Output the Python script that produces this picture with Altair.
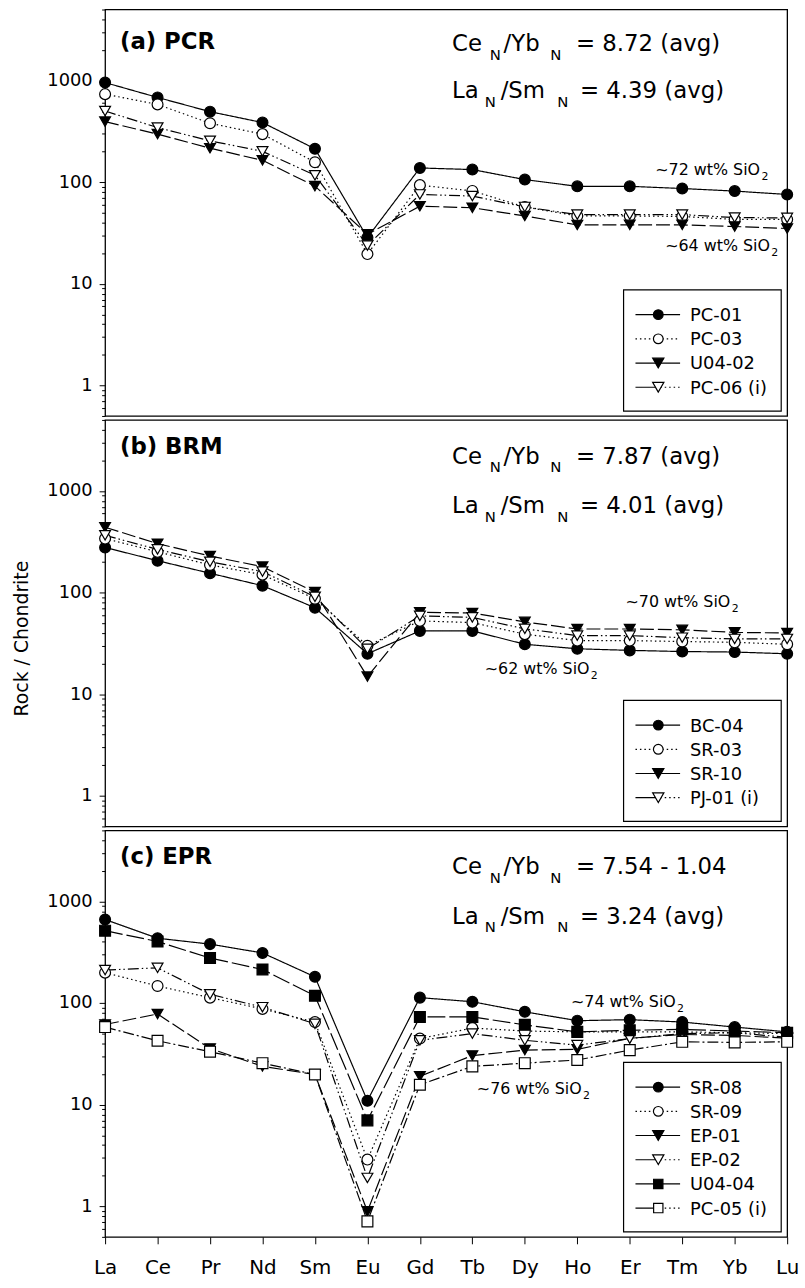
import altair as alt
import pandas as pd

FONT = "DejaVu Sans"

elements = ["La", "Ce", "Pr", "Nd", "Sm", "Eu", "Gd", "Tb", "Dy", "Ho", "Er", "Tm", "Yb", "Lu"]

# ---- Panel (a) PCR ----
pc01 = [955, 682, 494, 386, 213, 28.5, 138, 133, 106, 91, 91, 86.6, 81.7, 75.7]
pc03 = [735, 582, 380, 297, 157, 19.6, 93.5, 82, 57, 46.5, 46.5, 46, 43, 43]
u0402 = [394, 297, 216, 164, 91.4, 30.7, 58, 56, 46.5, 37.9, 38, 38, 36.6, 35]
pc06 = [501, 345, 255, 201, 117, 23.8, 75.7, 73, 57, 48, 48, 48, 44.8, 44.5]

# ---- Panel (b) BRM ----
bc04 = [278, 206, 155, 117, 71, 25, 42, 42, 31, 28, 27, 26.3, 26, 25]
sr03 = [340, 252, 187, 150, 87, 30, 52.6, 50.7, 39, 33.7, 33.7, 33, 32.4, 31]
sr10 = [440, 303, 229, 180, 101, 14.9, 64, 63, 51.5, 43.8, 43.8, 43, 40.6, 40]
pj01 = [366, 266, 201, 161, 91, 28, 59, 57, 44, 37.7, 37.7, 36, 35, 35]

# ---- Panel (c) EPR ----
sr08 = [664, 434, 380, 311, 181, 10.9, 113, 103, 82, 67, 68.6, 65, 58, 52]
sr09 = [199, 147, 113, 87.5, 65, 2.88, 44.7, 56.7, 53, 52, 52, 52, 51, 50]
ep01 = [61.5, 78, 35.7, 23.8, 19.8, 0.89, 19, 30.4, 34.4, 35, 45, 49, 48, 45]
ep02 = [211, 222, 122, 91, 62.5, 1.9, 43, 50, 43, 38.5, 44.7, 50, 51, 46]
u0404 = [515, 403, 277, 214, 118, 7.0, 73, 73, 61, 52, 54, 55, 53, 51]
pc05 = [58, 42.5, 33.2, 25.6, 19.8, 0.71, 15.7, 23.8, 25.6, 27.5, 34.4, 41.5, 41, 41.5]

panel_titles = ["(a) PCR", "(b) BRM", "(c) EPR"]
ce_yb = ["= 8.72 (avg)", "= 7.87 (avg)", "= 7.54 - 1.04"]
la_sm = ["= 4.39 (avg)", "= 4.01 (avg)", "= 3.24 (avg)"]
silica_hi = ["~72 wt% SiO", "~70 wt% SiO", "~74 wt% SiO"]
silica_lo = ["~64 wt% SiO", "~62 wt% SiO", "~76 wt% SiO"]

panels = [
    [("PC-01", pc01, "circle", "black", "solid", "solid"),
     ("PC-03", pc03, "circle", "white", "dot", "dot"),
     ("U04-02", u0402, "triangle-down", "black", "longdash", "solid"),
     ("PC-06 (i)", pc06, "triangle-down", "white", "dashdotdot", "half")],
    [("BC-04", bc04, "circle", "black", "solid", "solid"),
     ("SR-03", sr03, "circle", "white", "dot", "dot"),
     ("SR-10", sr10, "triangle-down", "black", "longdash", "solid"),
     ("PJ-01 (i)", pj01, "triangle-down", "white", "dashdotdot", "half")],
    [("SR-08", sr08, "circle", "black", "solid", "solid"),
     ("SR-09", sr09, "circle", "white", "dot", "dot"),
     ("EP-01", ep01, "triangle-down", "black", "longdash", "solid"),
     ("EP-02", ep02, "triangle-down", "white", "dashdotdot", "half"),
     ("U04-04", u0404, "square", "black", "longdash2", "solid"),
     ("PC-05 (i)", pc05, "square", "white", "dashdot", "half")],
]

# ---- styles / layout (not data) ----
DASH = {"solid": [1, 0], "dot": [1.5, 3], "longdash": [14, 4], "longdash2": [18, 4],
        "dashdotdot": [11, 3, 1.5, 3, 1.5, 3], "dashdot": [11, 3, 2, 3]}
SIZE = {"circle": 120, "triangle-down": 160, "square": 110}
W, H = 688, 410
title_y = [40, 34, 34]
ratio_y1 = [42, 44, 44]
ratio_y2 = [89, 94, 94]
RX = 350
sil_hi_pos = [(555, 167), (525, 189), (470, 178)]
sil_lo_pos = [(565, 244), (383, 256), (375, 266)]
leg_bottom = 381
leg_step = 24.4

one = alt.Data(values=[{"k": 1}])


def txt(s, x, y, size, bold=False, align="left"):
    return alt.Chart(one).mark_text(
        text=s, align=align, baseline="alphabetic", fontSize=size, font=FONT,
        fontWeight="bold" if bold else "normal", color="black"
    ).encode(x=alt.value(x), y=alt.value(y))


def rule(x1, x2, y, dash):
    return alt.Chart(one).mark_rule(color="black", strokeWidth=1.2, strokeDash=dash).encode(
        x=alt.value(x1), x2=alt.value(x2), y=alt.value(y))


def sym(x, y, shape, fill, size):
    return alt.Chart(one).mark_point(
        shape=shape, filled=True, fill=fill, stroke="black", strokeWidth=1.2,
        size=size, opacity=1).encode(x=alt.value(x), y=alt.value(y))


major = [1, 10, 100, 1000]
tick_vals = [0.5, 0.6, 0.7, 0.8, 0.9] + [m * k for m in major for k in range(1, 10)]
tick_vals = sorted(set([v for v in tick_vals if v <= 5000]))
is_major = "(datum.value==1||datum.value==10||datum.value==100||datum.value==1000)"


def make_panel(i):
    series = panels[i]
    rows = []
    for name, vals, shape, fill, dash, ldash in series:
        for j, (el, v) in enumerate(zip(elements, vals)):
            rows.append({"series": name, "el": el, "idx": j, "v": v})
    df = pd.DataFrame(rows)
    names = [s[0] for s in series]
    bottom = i == 2
    xaxis = alt.Axis(title=None, labelFont=FONT, labelFontSize=20, tickSize=7,
                     labelPadding=14, domain=False, tickColor="black", labelColor="black",
                     labelAngle=0) if bottom else None
    x = alt.X("el:N", sort=elements,
              scale=alt.Scale(type="point", domain=elements, padding=0), axis=xaxis)
    yaxis = alt.Axis(
        title="Rock / Chondrite" if i == 1 else None,
        values=tick_vals, labelExpr=is_major + " ? datum.label : ''", format="d",
        tickSize={"condition": {"test": is_major, "value": 6}, "value": 3.5},
        labelFont=FONT, labelFontSize=18, labelPadding=7, labelColor="black",
        tickColor="black", domain=False, grid=False,
        titleFont=FONT, titleFontSize=19, titleFontWeight="normal", titleColor="black",
        titlePadding=15, titleY=220)
    y = alt.Y("v:Q", scale=alt.Scale(type="log", domain=[0.5, 5000], nice=False), axis=yaxis)
    lines = alt.Chart(df).mark_line(color="black", strokeWidth=1.2).encode(
        x=x, y=y,
        strokeDash=alt.StrokeDash("series:N", scale=alt.Scale(
            domain=names, range=[DASH[s[4]] for s in series]), legend=None),
        order="idx:Q")
    pts = alt.Chart(df).mark_point(filled=True, opacity=1, stroke="black", strokeWidth=1.2).encode(
        x=x, y=y,
        shape=alt.Shape("series:N", scale=alt.Scale(domain=names, range=[s[2] for s in series]), legend=None),
        fill=alt.Fill("series:N", scale=alt.Scale(domain=names, range=[s[3] for s in series]), legend=None),
        size=alt.Size("series:N", scale=alt.Scale(domain=names, range=[SIZE[s[2]] for s in series]), legend=None))
    layers = [lines, pts]
    # panel label & ratios
    layers.append(txt(panel_titles[i], 15, title_y[i], 23, bold=True))
    for yy, (a, b, c) in [(ratio_y1[i], ("Ce", "/Yb", ce_yb[i])), (ratio_y2[i], ("La", "/Sm", la_sm[i]))]:
        offs = [0, 38, 52, 99, 125] if a == "Ce" else [0, 33, 49, 106, 129]
        layers.append(txt(a, RX + offs[0], yy, 23))
        layers.append(txt("N", RX + offs[1], yy + 9, 15))
        layers.append(txt(b, RX + offs[2], yy, 23))
        layers.append(txt("N", RX + offs[3], yy + 9, 15))
        layers.append(txt(c, RX + offs[4], yy, 23))
    for s, (sx, sy) in [(silica_hi[i], sil_hi_pos[i]), (silica_lo[i], sil_lo_pos[i])]:
        layers.append(txt(s, sx, sy, 16))
        layers.append(txt("2", sx + 107, sy + 5, 11))
    # legend
    n = len(series)
    top = leg_bottom - (n - 1) * leg_step - 25
    box = alt.Chart(one).mark_rect(fill="white", stroke="black", strokeWidth=1.2).encode(
        x=alt.value(523), x2=alt.value(682), y=alt.value(top), y2=alt.value(leg_bottom + 24))
    layers.append(box)
    for k, (name, vals, shape, fill, dash, ldash) in enumerate(series):
        ly = top + 25 + k * leg_step
        if ldash == "half":
            layers.append(rule(535, 558, ly, [1, 0]))
            layers.append(rule(560, 582, ly, DASH["dot"]))
        else:
            layers.append(rule(535, 580, ly, DASH[ldash] if ldash == "dot" else [1, 0]))
        layers.append(sym(558, ly, shape, fill, SIZE[shape] * 0.8))
        layers.append(txt(name, 590, ly + 6.5, 18))
    return alt.layer(*layers).properties(width=W, height=H).resolve_scale(
        shape="independent", fill="independent", size="independent", strokeDash="independent")


chart = alt.vconcat(*[make_panel(i) for i in range(3)], spacing=0).resolve_scale(
    shape="independent", fill="independent", size="independent", strokeDash="independent"
).properties(
    padding={"left": 12, "top": 2, "right": 5, "bottom": 5}
).configure_view(stroke="black", strokeWidth=1.3).configure_concat(spacing=0)

chart.save("out.html", embed_options={"renderer": "svg", "actions": False})
